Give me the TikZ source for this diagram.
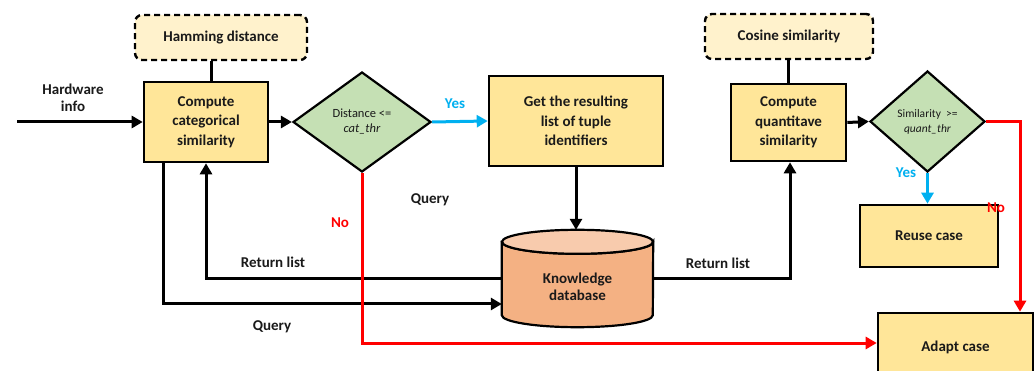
\documentclass[tikz,border=0pt]{standalone}
\usepackage{fontspec}
\setmainfont{Carlito}
\usetikzlibrary{shapes.geometric,arrows.meta,calc}

\definecolor{boxfill}{HTML}{FFE699}
\definecolor{dashfill}{HTML}{FFF2CC}
\definecolor{decfill}{HTML}{C5E0B4}
\definecolor{dbbody}{HTML}{F4B183}
\definecolor{dbtop}{HTML}{F8CBAD}
\definecolor{yescol}{HTML}{00B0F0}
\definecolor{nocol}{HTML}{FF0000}
\definecolor{ink}{HTML}{1A1A1A}

\tikzset{
  proc/.style={draw=black, line width=2.6pt, fill=boxfill, align=center,
    font=\bfseries\fontsize{15}{19.5}\selectfont, text=ink, inner sep=0pt},
  method/.style={draw=black, line width=2.4pt, dash pattern=on 6pt off 4pt,
    rounded corners=7pt, fill=dashfill, align=center,
    font=\bfseries\fontsize{15}{18}\selectfont, text=ink, inner sep=0pt},
  decision/.style={diamond, draw=black, line width=2.2pt, fill=decfill,
    align=center, font=\fontsize{12.5}{15}\selectfont, text=ink, inner sep=0pt},
  lbl/.style={font=\bfseries\fontsize{15}{17}\selectfont, text=ink, inner sep=0pt, align=center},
  tip/.style={-{Triangle[length=11pt,width=12pt]}},
  conn/.style={draw=black, line width=3pt},
  arr/.style={conn, tip},
  yesarr/.style={draw=yescol, line width=3pt, tip},
  noarr/.style={draw=nocol, line width=3pt, tip},
  dbline/.style={draw=black, line width=2.2pt},
}

\begin{document}
\begin{tikzpicture}[x=1pt,y=-1pt]
  \useasboundingbox (0,0) rectangle (1036,371);
  \fill[white] (0,0) rectangle (1036,371);
  \clip (0,0) rectangle (1036,371);

  % process boxes
  \node[method, minimum width=172pt, minimum height=45pt] (ham) at (221,37.5) {Hamming distance};
  \node[proc, minimum width=124pt, minimum height=80pt] (ccs) at (206,122) {Compute\\categorical\\similarity};
  \node[decision, minimum width=138pt, minimum height=100pt, aspect=1.38] (d1) at (362,122) {Distance <=\\\textit{cat\_thr}};
  \node[proc, minimum width=174pt, minimum height=90pt] (get) at (576,121) {Get the resulting\\list of tuple\\identifiers};
  \node[method, minimum width=168pt, minimum height=45pt] (cos) at (789,36.5) {Cosine similarity};
  \node[proc, minimum width=115pt, minimum height=77pt] (cqs) at (788.5,122.5) {Compute\\quantitave\\similarity};
  \node[decision, minimum width=115pt, minimum height=101pt, aspect=1.14, font=\fontsize{11.5}{15}\selectfont] (d2) at (927.5,121.5) {Similarity\ \ >=\\\textit{quant\_thr}};
  \node[proc, minimum width=138pt, minimum height=62pt] (reuse) at (929,236) {Reuse case};
  \node[proc, minimum width=155pt, minimum height=68pt] (adapt) at (955.5,347) {Adapt case};

  % knowledge database cylinder
  \node[minimum width=151pt, minimum height=97pt, inner sep=0pt] (kdb) at (577.5,278.5) {};
  \draw[dbline, fill=dbbody]
    ([yshift=-12pt]kdb.north west) -- ([yshift=12pt]kdb.south west)
    arc[start angle=180, end angle=360, x radius=75.5pt, y radius=12pt]
    -- ([yshift=-12pt]kdb.north east)
    arc[start angle=0, end angle=-180, x radius=75.5pt, y radius=12pt] -- cycle;
  \draw[dbline, fill=dbtop] ([yshift=-12pt]kdb.north) ellipse[x radius=75.5pt, y radius=12pt];
  \node[lbl] (kdblbl) at (577.5,287) {Knowledge\\database};

  % input
  \coordinate (hwin) at (17,122);
  \node[lbl] (hwlbl) at (73,98) {Hardware\\info};
  \draw[arr] (hwin) -- (ccs.west);

  % links to methods
  \draw[conn] ([xshift=5pt]ccs.north) -- ([xshift=5pt]ccs.north |- ham.south);
  \draw[conn] (cqs.north) -- (cqs.north |- cos.south);

  % main flow
  \draw[arr] (ccs.east) -- (d1.west);
  \draw[yesarr] (d1.east) -- (get.west);
  \node[lbl, text=yescol] (yes1) at (455,104) {Yes};
  \draw[arr] (get.south) -- (get.south |- kdb.north);
  \node[lbl] (q1) at (430,200) {Query};

  \draw[arr] ([xshift=-43pt]ccs.south) |- ([yshift=-25.5pt]kdb.west);
  \node[lbl] (q2) at (272,327) {Query};
  \draw[arr] (kdb.west) -| (ccs.south);
  \node[lbl] (rl1) at (273,262) {Return list};

  \draw[arr] (kdb.east) -| ([xshift=1.5pt]cqs.south);
  \node[lbl] (rl2) at (718,263) {Return list};

  \draw[arr] (cqs.east) -- (d2.west);
  \draw[yesarr] (d2.south) -- (d2.south |- reuse.north);
  \node[lbl, text=yescol] (yes2) at (906,173) {Yes};

  % rejected branches
  \draw[noarr] (d2.east) -| ([xshift=64.5pt]adapt.north);
  \node[lbl, text=nocol] (no2) at (996,208) {No};
  \draw[noarr] (d1.south) |- ([yshift=4pt]adapt.west);
  \node[lbl, text=nocol] (no1) at (340,223) {No};
\end{tikzpicture}
\end{document}
